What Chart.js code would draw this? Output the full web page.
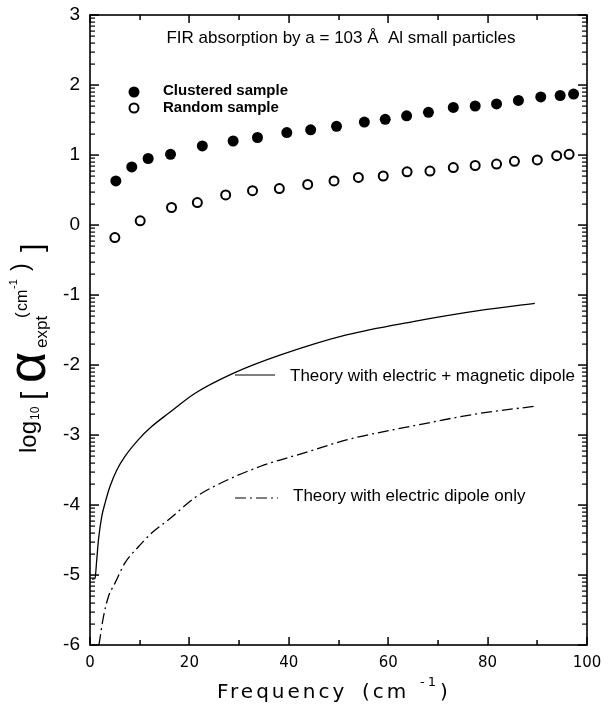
<!DOCTYPE html>
<html>
<head>
<meta charset="utf-8">
<script src="https://cdn.jsdelivr.net/npm/chart.js@4.4.1/dist/chart.umd.min.js"></script>
<style>
  html, body { margin: 0; padding: 0; background: #fff; }
  #wrap { width: 616px; height: 712px; }
</style>
</head>
<body>
<div id="wrap"><canvas id="myChart"></canvas></div>
<script>
  // Measured points (frequency in cm-1, log10 of absorption)
  var clusteredX = [5.2, 8.4, 11.7, 16.2, 22.6, 28.8, 33.7, 39.6, 44.4, 49.6, 55.2, 59.4, 63.7, 68.1, 73.1, 77.5, 81.8, 86.2, 90.7, 94.6, 97.3];
  var clusteredY = [0.63, 0.83, 0.95, 1.01, 1.13, 1.2, 1.25, 1.32, 1.36, 1.41, 1.47, 1.51, 1.56, 1.61, 1.68, 1.70, 1.73, 1.78, 1.83, 1.85, 1.87];

  var randomX = [5.0, 10.1, 16.4, 21.6, 27.3, 32.7, 38.1, 43.8, 49.1, 54.0, 59.0, 63.8, 68.4, 73.1, 77.5, 81.8, 85.4, 90.0, 93.9, 96.4];
  var randomY = [-0.18, 0.06, 0.25, 0.32, 0.43, 0.49, 0.52, 0.58, 0.63, 0.68, 0.70, 0.76, 0.77, 0.82, 0.85, 0.87, 0.91, 0.93, 0.99, 1.01];

  // Theory curves
  var magX = [0.4, 1.0, 1.35, 1.7, 2.35, 3, 4, 5.4, 7, 9.7, 12.4, 15.8, 21, 28.8, 38.2, 51.6, 65, 78.5, 89.5];
  var magY = [-5.06, -5.05, -4.79, -4.5, -4.17, -3.98, -3.74, -3.5, -3.31, -3.07, -2.88, -2.69, -2.41, -2.12, -1.86, -1.57, -1.38, -1.22, -1.12];

  var elecX = [1.8, 2.7, 3.7, 5, 7, 9.7, 12.4, 15.8, 21, 24.8, 34.2, 44.3, 51.6, 65, 78.5, 89.5];
  var elecY = [-6.0, -5.6, -5.31, -5.12, -4.83, -4.6, -4.4, -4.21, -3.9, -3.74, -3.45, -3.23, -3.07, -2.87, -2.69, -2.59];

  var xTicks = [0, 20, 40, 60, 80, 100];
  var yTicks = [-6, -5, -4, -3, -2, -1, 0, 1, 2, 3];

  function pts(xs, ys) {
    return xs.map(function (x, i) { return { x: x, y: ys[i] }; });
  }

  // inward tick marks, frame and all the annotation text
  var decorations = {
    id: 'decorations',
    afterDraw: function (chart) {
      var c = chart.ctx, a = chart.chartArea;
      var xs = chart.scales.x, ys = chart.scales.y;
      c.save();
      c.fillStyle = '#000';
      c.strokeStyle = '#000';
      c.lineWidth = 1.6;
      c.strokeRect(a.left, a.top, a.right - a.left, a.bottom - a.top);

      // x ticks every 10, longer on the labelled ones
      for (var v = 0; v <= 100; v += 10) {
        var px = Math.round(xs.getPixelForValue(v));
        var len = v % 20 === 0 ? 8 : 5;
        c.fillRect(px - 0.7, a.bottom - len, 1.5, len);
        c.fillRect(px - 0.7, a.top, 1.5, len);
      }
      // y ticks on integers plus log-style minor ticks
      for (var n = -6; n <= 3; n++) {
        var py = Math.round(ys.getPixelForValue(n));
        c.fillRect(a.left, py - 0.7, 9, 1.5);
        c.fillRect(a.right - 9, py - 0.7, 9, 1.5);
        if (n < 3) {
          for (var k = 2; k <= 9; k++) {
            var pm = Math.round(ys.getPixelForValue(n + Math.log10(k)));
            c.fillRect(a.left, pm - 0.5, 5, 1.2);
            c.fillRect(a.right - 5, pm - 0.5, 5, 1.2);
          }
        }
      }

      c.textBaseline = 'middle';
      c.textAlign = 'center';
      c.font = '17px "Liberation Sans", Arial, sans-serif';
      c.fillText('FIR absorption by a = 103 Å  Al small particles', 341, 38);

      // sample legend
      c.beginPath();
      c.arc(134, 92, 5.5, 0, Math.PI * 2);
      c.fill();
      c.beginPath();
      c.lineWidth = 2;
      c.arc(134, 108, 4.5, 0, Math.PI * 2);
      c.stroke();
      c.textAlign = 'left';
      c.font = 'bold 15px "Liberation Sans", Arial, sans-serif';
      c.fillText('Clustered sample', 163, 91);
      c.fillText('Random sample', 163, 108);

      // theory legend
      c.lineWidth = 1.2;
      c.beginPath();
      c.moveTo(235, 375); c.lineTo(275, 375);
      c.stroke();
      c.setLineDash([11, 4, 2, 4]);
      c.beginPath();
      c.moveTo(235, 498); c.lineTo(278, 498);
      c.stroke();
      c.setLineDash([]);
      c.font = '17px "Liberation Sans", Arial, sans-serif';
      c.fillText('Theory with electric + magnetic dipole', 290, 376);
      c.fillText('Theory with electric dipole only', 293, 496);

      // x axis title
      c.font = '20px "DejaVu Sans", sans-serif';
      c.textAlign = 'left';
      c.textBaseline = 'alphabetic';
      if ('letterSpacing' in c) c.letterSpacing = '3px';
      c.fillText('Frequency', 217, 698);
      c.fillText('(cm', 362, 698);
      c.font = '13px "DejaVu Sans", sans-serif';
      c.fillText('-1', 420, 686);
      c.font = '20px "DejaVu Sans", sans-serif';
      c.fillText(')', 440, 698);
      if ('letterSpacing' in c) c.letterSpacing = '0px';

      // y axis title, rotated; along = distance up from y=453
      c.translate(36, 453);
      c.rotate(-Math.PI / 2);
      function part(t, size, along, dy) {
        c.font = size + 'px "Liberation Sans", Arial, sans-serif';
        c.fillText(t, along, dy);
      }
      part('log', 24, 0, 0);
      part('10', 12, 33, 3);
      part('[', 30, 53, 6);
      part('α', 54, 70, 9);
      part('expt', 17, 105, 11);
      part('(', 17, 135, -9);
      part('cm', 16, 142, -9);
      part('-1', 11, 164, -19);
      part(')', 23, 182, -8);
      part(']', 30, 201, 6);
      c.restore();
    }
  };

  var ctx = document.getElementById('myChart').getContext('2d');

  var data = {
    datasets: [
      {
        data: pts(clusteredX, clusteredY),
        pointRadius: 5.5,
        pointBackgroundColor: '#000',
        pointBorderColor: '#000',
        pointBorderWidth: 0
      },
      {
        data: pts(randomX, randomY),
        pointRadius: 4.5,
        pointBackgroundColor: '#fff',
        pointBorderColor: '#000',
        pointBorderWidth: 2
      },
      {
        data: pts(magX, magY),
        showLine: true,
        pointRadius: 0,
        borderColor: '#000',
        borderWidth: 1.3,
        cubicInterpolationMode: 'monotone'
      },
      {
        data: pts(elecX, elecY),
        showLine: true,
        pointRadius: 0,
        borderColor: '#000',
        borderWidth: 1.3,
        borderDash: [11, 4, 2, 4],
        cubicInterpolationMode: 'monotone'
      }
    ]
  };

  var options = {
    responsive: true,
    maintainAspectRatio: false,
    animation: false,
    layout: { padding: { top: 15, right: 29, left: 0, bottom: 0 } },
    plugins: { legend: { display: false }, tooltip: { enabled: false } },
    scales: {
      x: {
        type: 'linear',
        min: 0, max: 100,
        afterBuildTicks: function (s) { s.ticks = xTicks.map(function (v) { return { value: v }; }); },
        afterFit: function (s) { s.height = 67; },
        grid: { display: false, drawTicks: false },
        border: { display: false },
        ticks: {
          color: '#000',
          padding: 9,
          maxRotation: 0,
          font: { family: '"DejaVu Sans", sans-serif', size: 15 }
        }
      },
      y: {
        type: 'linear',
        min: -6, max: 3,
        afterBuildTicks: function (s) { s.ticks = yTicks.map(function (v) { return { value: v }; }); },
        afterFit: function (s) { s.width = 90; s.paddingTop = 0; s.paddingBottom = 0; },
        grid: { display: false, drawTicks: false },
        border: { display: false },
        ticks: {
          color: '#000',
          padding: 10,
          font: { family: '"Liberation Sans", Arial, sans-serif', size: 19 }
        }
      }
    }
  };

  var chart = new Chart(ctx, {
    type: 'scatter',
    data: data,
    options: options,
    plugins: [decorations]
  });
</script>
</body>
</html>
